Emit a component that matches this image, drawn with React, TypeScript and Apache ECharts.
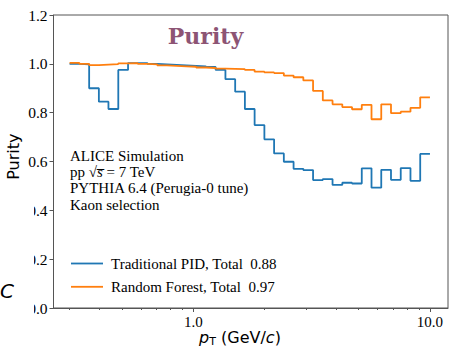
import React, { useEffect, useRef } from "react";
import * as echarts from "echarts";

// 37 logarithmic pT bins between 0.3 and 10 GeV/c
const PT_EDGES = [
  0.3, 0.33, 0.363, 0.399, 0.438, 0.482, 0.53, 0.582, 0.64, 0.704, 0.774, 0.851,
  0.935, 1.028, 1.131, 1.243, 1.367, 1.503, 1.652, 1.816, 1.997, 2.195, 2.413,
  2.653, 2.917, 3.207, 3.526, 3.876, 4.262, 4.685, 5.151, 5.663, 6.226, 6.845,
  7.526, 8.274, 9.096, 10.0,
];

// Kaon purity per bin
const TRADITIONAL_PID = [
  1.0, 0.998, 0.9, 0.845, 0.815, 0.975, 1.003, 1.003, 1.0, 0.998, 0.996, 0.994,
  0.992, 0.99, 0.987, 0.975, 0.937, 0.886, 0.815, 0.749, 0.691, 0.633, 0.599,
  0.57, 0.565, 0.524, 0.528, 0.504, 0.513, 0.51, 0.572, 0.493, 0.566, 0.525,
  0.573, 0.521, 0.631,
];
const RANDOM_FOREST = [
  1.004, 1.0, 0.995, 0.997, 0.999, 1.002, 1.003, 1.0, 0.998, 0.994, 0.992, 0.99,
  0.988, 0.985, 0.983, 0.98, 0.979, 0.978, 0.975, 0.968, 0.965, 0.962, 0.952,
  0.945, 0.932, 0.889, 0.85, 0.834, 0.823, 0.814, 0.832, 0.773, 0.834, 0.798,
  0.804, 0.82, 0.863,
];

const SERIES_NAMES = ["Traditional PID, Total\u00a0 0.88", "Random Forest, Total\u00a0 0.97"];
const SERIES_COLORS = ["#1f77b4", "#ff7f0e"];

const X_LIMITS = [0.2566, 11.92];
const Y_LIMITS = [0, 1.2];
const Y_STEP = 0.2;
const MAJOR_X_TICKS = [1, 10];
const MINOR_X_TICKS = [0.3, 0.4, 0.5, 0.6, 0.7, 0.8, 0.9, 2, 3, 4, 5, 6, 7, 8, 9];

const INFO_LINES = [
  "ALICE Simulation",
  "{r|pp }{r|\u221a}{i|s\u0305}{r| = 7 TeV}",
  "PYTHIA 6.4 (Perugia-0 tune)",
  "Kaon selection",
];

const SERIF = "'Liberation Serif', 'Times New Roman', serif";
const SANS = "'DejaVu Sans', sans-serif";
const AXIS_COLOR = "#555";
const LINE_WIDTH = 1.8;

// Step outline: each bin value is held from its left edge to the next edge
function stepPoints(values: number[]) {
  const pts = values.map((v, i) => [Math.log10(PT_EDGES[i]), v]);
  pts.push([Math.log10(PT_EDGES[values.length]), values[values.length - 1]]);
  return pts;
}

export default function App() {
  const ref = useRef<HTMLDivElement>(null);

  useEffect(() => {
    if (!ref.current) return;
    const chart = echarts.init(ref.current, undefined, { renderer: "svg" });
    const xMin = Math.log10(X_LIMITS[0]);
    const xMax = Math.log10(X_LIMITS[1]);

    const infoGraphics = INFO_LINES.map((t, i) => ({
      type: "text",
      z: 50,
      style: {
        text: t,
        x: 70,
        y: 155.8 + i * 16.3,
        verticalAlign: "middle",
        fontFamily: SERIF,
        fontSize: 15,
        fill: "#000",
        rich: {
          r: { fontFamily: SERIF, fontSize: 15, fill: "#000" },
          i: { fontFamily: SERIF, fontSize: 15, fontStyle: "italic", fill: "#000" },
        },
      },
    }));

    chart.setOption({
      animation: false,
      grid: {
        left: 53.5,
        right: 4,
        top: 15,
        bottom: 39,
        show: true,
        borderColor: AXIS_COLOR,
        borderWidth: 1,
      },
      legend: {
        orient: "vertical",
        left: 66,
        top: 250.5,
        icon: "rect",
        itemWidth: 32,
        itemHeight: LINE_WIDTH,
        itemGap: 7.3,
        data: SERIES_NAMES,
        textStyle: {
          fontFamily: SERIF,
          fontSize: 15,
          color: "#000",
          lineHeight: 16,
          padding: [0, 0, 0, 3],
        },
      },
      xAxis: [
        {
          type: "value",
          min: xMin,
          max: xMax,
          axisLine: { show: true, onZero: false, lineStyle: { color: AXIS_COLOR, width: 1 } },
          splitLine: { show: false },
          axisTick: {
            show: true,
            length: 4,
            customValues: MAJOR_X_TICKS.map(Math.log10),
            lineStyle: { color: AXIS_COLOR },
          },
          axisLabel: {
            customValues: MAJOR_X_TICKS.map(Math.log10),
            formatter: (v: number) => Math.pow(10, v).toFixed(1),
            fontFamily: SERIF,
            fontSize: 15,
            color: "#000",
            margin: 6,
          },
        },
        {
          type: "value",
          position: "bottom",
          min: xMin,
          max: xMax,
          axisLine: { show: false, onZero: false },
          splitLine: { show: false },
          axisLabel: { show: false },
          axisTick: {
            show: true,
            length: 2,
            customValues: MINOR_X_TICKS.map(Math.log10),
            lineStyle: { color: AXIS_COLOR },
          },
        },
      ],
      yAxis: {
        type: "value",
        min: Y_LIMITS[0],
        max: Y_LIMITS[1],
        interval: Y_STEP,
        axisLine: { show: true, onZero: false, lineStyle: { color: AXIS_COLOR, width: 1 } },
        splitLine: { show: false },
        axisTick: { show: true, length: 4, lineStyle: { color: AXIS_COLOR } },
        axisLabel: {
          formatter: (v: number) => v.toFixed(1),
          fontFamily: SERIF,
          fontSize: 15.5,
          color: "#000",
          margin: 6,
        },
      },
      series: [TRADITIONAL_PID, RANDOM_FOREST].map((vals, i) => ({
        name: SERIES_NAMES[i],
        type: "line",
        xAxisIndex: 0,
        step: "end",
        symbol: "none",
        showSymbol: false,
        color: SERIES_COLORS[i],
        itemStyle: { color: SERIES_COLORS[i] },
        lineStyle: { color: SERIES_COLORS[i], width: LINE_WIDTH },
        data: stepPoints(vals),
      })),
      graphic: [
        {
          type: "text",
          z: 50,
          style: {
            text: "Purity",
            x: 205.5,
            y: 35.7,
            align: "center",
            verticalAlign: "middle",
            fontFamily: "'DejaVu Serif', serif",
            fontWeight: "bold",
            fontSize: 22,
            fill: "#8d5474",
          },
        },
        ...infoGraphics,
        {
          type: "text",
          z: 50,
          x: 13.7,
          y: 156.7,
          rotation: Math.PI / 2,
          style: {
            text: "Purity",
            align: "center",
            verticalAlign: "middle",
            fontFamily: SANS,
            fontSize: 16,
            fill: "#000",
          },
        },
        {
          type: "text",
          z: 50,
          style: {
            text: "{i|p}{s|T}{r| (GeV/}{i|c}{r|)}",
            x: 240,
            y: 337,
            align: "center",
            verticalAlign: "middle",
            rich: {
              i: { fontFamily: SANS, fontSize: 16, fontStyle: "italic", fill: "#000" },
              r: { fontFamily: SANS, fontSize: 16, fill: "#000" },
              s: { fontFamily: SANS, fontSize: 11, fill: "#000", padding: [8, 0, 0, 0] },
            },
          },
        },
        {
          type: "rect",
          z: 60,
          shape: { x: 0, y: 190, width: 34, height: 157 },
          style: { fill: "#fff" },
        },
        {
          type: "text",
          z: 70,
          style: {
            text: "C",
            x: 0,
            y: 290.5,
            verticalAlign: "middle",
            fontFamily: SANS,
            fontStyle: "italic",
            fontSize: 20,
            fill: "#000",
          },
        },
      ],
    });
    return () => chart.dispose();
  }, []);

  return (
    <div
      ref={ref}
      style={{ position: "fixed", left: 0, top: 0, width: 452, height: 347, background: "#fff" }}
    />
  );
}
